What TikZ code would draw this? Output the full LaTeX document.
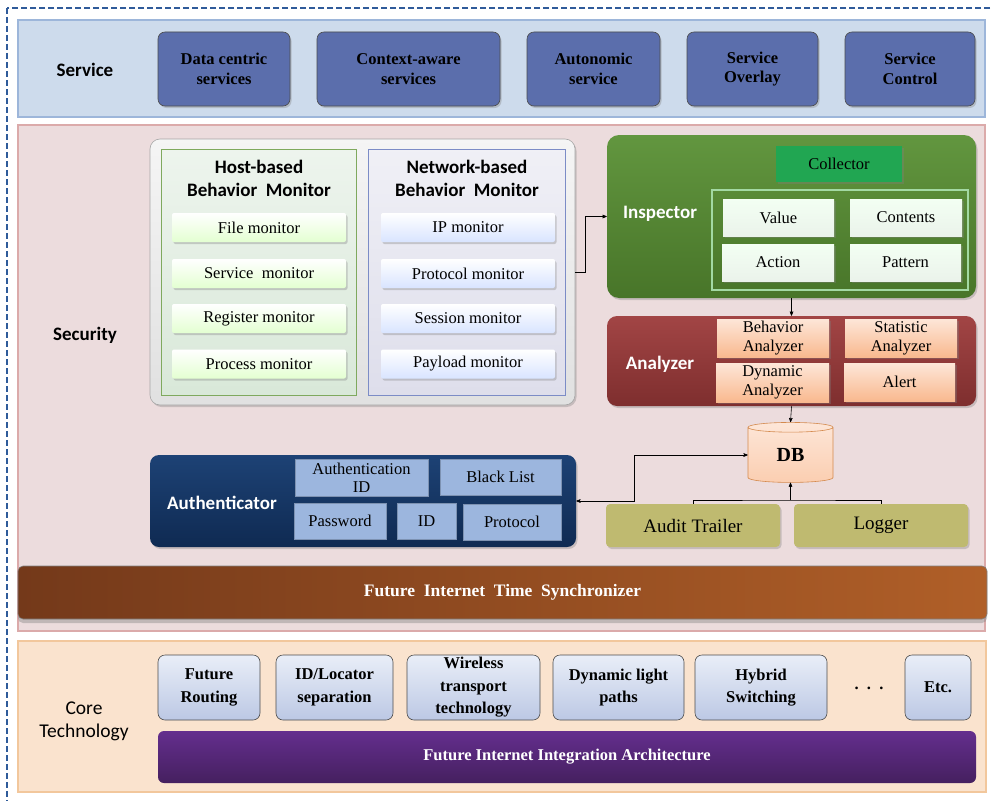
\documentclass[tikz,border=0pt]{standalone}
\usepackage{fontspec}
\setmainfont{Liberation Serif}
\newfontfamily\calib{Carlito}
\usepackage{tikz}
\usetikzlibrary{arrows,shapes.geometric,shadows}

\definecolor{frameblue}{HTML}{2F5B9A}
\definecolor{svcband}{HTML}{CDDBEC}
\definecolor{svcbandline}{HTML}{9DB6DA}
\definecolor{svcbox}{HTML}{5B6EAC}
\definecolor{secband}{HTML}{ECDCDD}
\definecolor{secbandline}{HTML}{DBAAAA}
\definecolor{hostline}{HTML}{7FA95E}
\definecolor{netline}{HTML}{7C8CC6}
\definecolor{inspgreen}{HTML}{62963F}
\definecolor{inspdark}{HTML}{487529}
\definecolor{collgreen}{HTML}{21A652}
\definecolor{anared}{HTML}{A24545}
\definecolor{anadark}{HTML}{7E2E2E}
\definecolor{peach}{HTML}{F9B98F}
\definecolor{peachlt}{HTML}{FDE6D8}
\definecolor{dbline}{HTML}{D48A4E}
\definecolor{olive}{HTML}{BFBA70}
\definecolor{authblue}{HTML}{1D4275}
\definecolor{authdark}{HTML}{0F2A52}
\definecolor{authbox}{HTML}{9CB6DE}
\definecolor{syncdark}{HTML}{74391A}
\definecolor{synclt}{HTML}{B05F28}
\definecolor{coreband}{HTML}{FAE3CE}
\definecolor{corebandline}{HTML}{F2C79C}
\definecolor{corelt}{HTML}{E9EEF8}
\definecolor{coredk}{HTML}{BCC8E4}
\definecolor{purplelt}{HTML}{642E8E}
\definecolor{purpledk}{HTML}{45205F}

\begin{document}
\begin{tikzpicture}[x=1pt,y=-1pt,>=stealth',semithick,
                    font=\fontsize{16.5}{18}\selectfont]
  \tikzstyle{shad}=[drop shadow={opacity=0.35,shadow xshift=1.5pt,shadow yshift=-2pt}]
  \tikzstyle{band}=[rectangle,line width=1.5pt,inner sep=0pt]
  \tikzstyle{layer}=[calib-font,text=black]
  \tikzstyle{calib-font}=[font=\calib\bfseries\fontsize{19}{23}\selectfont]
  \tikzstyle{whitelab}=[calib-font,text=white]
  \tikzstyle{svcbox}=[rectangle,rounded corners=7pt,draw=black!70,fill=svcbox,align=center,
                      inner sep=0pt,font=\bfseries\fontsize{16.5}{19.5}\selectfont,shad]
  \tikzstyle{monbox}=[rectangle,rounded corners=2pt,inner sep=0pt,minimum width=174pt,
                      minimum height=29pt,shad]
  \tikzstyle{greenbox}=[rectangle,top color=white!40!green!8,bottom color=green!40!black!8!white,
                        inner sep=0pt,minimum height=37pt,shad]
  \tikzstyle{peachbox}=[rectangle,top color=peachlt,bottom color=peach,inner sep=0pt,
                        align=center,font=\fontsize{16.5}{19}\selectfont,shad]
  \tikzstyle{authbox}=[rectangle,fill=authbox,draw=authbox!80!black,inner sep=0pt,align=center,
                       font=\fontsize{16.5}{18}\selectfont]
  \tikzstyle{corebox}=[rectangle,rounded corners=7pt,draw=black!70,top color=corelt,
                       bottom color=coredk,align=center,inner sep=0pt,minimum height=65pt,
                       font=\bfseries\fontsize{16.5}{22.5}\selectfont]

  \path[use as bounding box,fill=white] (0,0) rectangle (992,800);
  \draw[frameblue,line width=1.3pt,dash pattern=on 6pt off 3pt] (7,8) rectangle (1010,815);

  \node[band,draw=svcbandline,fill=svcband,minimum width=967pt,minimum height=97pt] (svc) at (501.5,68.5) {};
  \node[layer] (svclab) at (85,70) {Service};
  \node[svcbox,minimum width=132pt,minimum height=74pt] (dcs) at (224,69) {Data centric\\services};
  \node[svcbox,minimum width=183pt,minimum height=74pt] (cas) at (408.5,69) {Context-aware\\services};
  \node[svcbox,minimum width=133pt,minimum height=74pt] (aut) at (593.5,69) {Autonomic\\service};
  \node[svcbox,minimum width=131pt,minimum height=74pt] (sov) at (752.5,69) {Service\\Overlay};
  \node[svcbox,minimum width=130pt,minimum height=74pt] (sct) at (910,69) {Service\\Control};

  \node[band,draw=secbandline,fill=secband,minimum width=967pt,minimum height=506pt] (sec) at (501.5,378) {};
  \node[layer] (seclab) at (85,335) {Security};

  \node[rectangle,rounded corners=10pt,draw=black!35,top color=white!96!black,bottom color=black!12!white,
        minimum width=425pt,minimum height=266pt,shad] (mon) at (362.5,272) {};
  \node[rectangle,draw=hostline,top color=green!40!black!7!white,bottom color=green!40!black!15!white,
        minimum width=195pt,minimum height=246pt] (host) at (258.5,272) {};
  \node[rectangle,draw=netline,top color=blue!40!black!6!white,bottom color=blue!40!black!13!white,
        minimum width=197pt,minimum height=246pt] (net) at (466.5,272) {};
  \node[calib-font,align=center] (hostlab) at (259,178.5) {Host-based\\Behavior\ \ Monitor};
  \node[calib-font,align=center] (netlab) at (467,178.5) {Network-based\\Behavior\ \ Monitor};

  \node[monbox,top color=white,bottom color=yellow!40!green!18!white] (fmon) at (259,227.5) {File monitor};
  \node[monbox,top color=white,bottom color=yellow!40!green!18!white] (smon) at (259,273.5) {Service\ \ monitor};
  \node[monbox,top color=white,bottom color=yellow!40!green!18!white] (rmon) at (259,318.5) {Register monitor};
  \node[monbox,top color=white,bottom color=yellow!40!green!18!white] (pmon) at (259,364) {Process monitor};
  \node[monbox,top color=white,bottom color=cyan!30!blue!15!white] (ipmon) at (468,227.5) {IP monitor};
  \node[monbox,top color=white,bottom color=cyan!30!blue!15!white] (prmon) at (468,273.5) {Protocol monitor};
  \node[monbox,top color=white,bottom color=cyan!30!blue!15!white] (semon) at (468,318.5) {Session monitor};
  \node[monbox,top color=white,bottom color=cyan!30!blue!15!white] (paymon) at (468,364) {Payload monitor};

  \node[rectangle,rounded corners=12pt,top color=inspgreen,bottom color=inspdark,
        minimum width=369pt,minimum height=163pt,shad] (insp) at (791.5,216.5) {};
  \node[whitelab] (insplab) at (660,214) {Inspector};
  \node[rectangle,fill=collgreen,minimum width=126pt,minimum height=36pt,inner sep=0pt,shad] (coll) at (839,164) {Collector};
  \node[rectangle,draw=green!25!white!85!black,line width=2pt,minimum width=256pt,minimum height=100pt] (frame) at (840,240) {};
  \node[greenbox,minimum width=111pt] (val) at (778.5,217.5) {Value};
  \node[greenbox,minimum width=112pt] (cont) at (906,217.5) {Contents};
  \node[greenbox,minimum width=112pt] (act) at (778,262.5) {Action};
  \node[greenbox,minimum width=111pt] (patt) at (905.5,262.5) {Pattern};

  \node[rectangle,rounded corners=10pt,top color=anared,bottom color=anadark,
        minimum width=369pt,minimum height=90pt,shad] (ana) at (791.5,361) {};
  \node[whitelab] (analab) at (660,364) {Analyzer};
  \node[peachbox,minimum width=112pt,minimum height=38pt] (bana) at (773,338) {Behavior\\Analyzer};
  \node[peachbox,minimum width=112pt,minimum height=38pt] (sana) at (901,338) {Statistic\\Analyzer};
  \node[peachbox,minimum width=113pt,minimum height=39pt] (dana) at (772.5,382.5) {Dynamic\\Analyzer};
  \node[peachbox,minimum width=111pt,minimum height=38pt] (alert) at (899.5,382) {Alert};

  \node[cylinder,shape border rotate=90,aspect=0.35,draw=dbline,top color=peachlt,bottom color=peach!70!white,
        minimum width=85pt,minimum height=60pt,inner sep=0pt,font=\bfseries\fontsize{20}{22}\selectfont] (db) at (790.5,455) {DB};

  \node[rectangle,rounded corners=4pt,fill=olive,minimum width=174pt,minimum height=43pt,
        font=\fontsize{19}{21}\selectfont,shad] (audit) at (693,525.5) {Audit Trailer};
  \node[rectangle,rounded corners=4pt,fill=olive,minimum width=174pt,minimum height=43pt,
        font=\fontsize{19}{21}\selectfont,shad] (logger) at (881,525.5) {Logger};

  \node[rectangle,rounded corners=9pt,top color=authblue,bottom color=authdark,
        minimum width=426pt,minimum height=92pt,shad] (auth) at (363,501) {};
  \node[whitelab] (authlab) at (222,503) {Authenticator};
  \node[authbox,minimum width=133pt,minimum height=37pt] (aid) at (361.5,477.5) {Authentication\\ID};
  \node[authbox,minimum width=121pt,minimum height=36pt] (blist) at (500.5,477) {Black List};
  \node[authbox,minimum width=92pt,minimum height=36pt] (pwd) at (340,521) {Password};
  \node[authbox,minimum width=59pt,minimum height=36pt] (idb) at (426.5,521) {ID};
  \node[authbox,minimum width=98pt,minimum height=36pt] (proto) at (512,522) {Protocol};

  \node[rectangle,rounded corners=5pt,left color=syncdark,right color=synclt,draw=black!50,
        minimum width=969pt,minimum height=53pt,text=white,font=\bfseries\fontsize{17.5}{19}\selectfont,
        drop shadow={opacity=0.4,shadow xshift=0pt,shadow yshift=-4pt}] (sync) at (502.5,592.5)
        {Future\ \ Internet\ \ Time\ \ Synchronizer};

  \node[band,draw=corebandline,fill=coreband,minimum width=968pt,minimum height=151pt] (core) at (502,716.5) {};
  \node[layer,font=\calib\fontsize{19.5}{23}\selectfont,align=center] (corelab) at (84,721) {Core\\Technology};
  \node[corebox,minimum width=102pt] (frt) at (209,687.5) {Future\\Routing};
  \node[corebox,minimum width=117pt] (idl) at (334.5,687.5) {ID/Locator\\separation};
  \node[corebox,minimum width=133pt] (wtt) at (473.5,687.5) {Wireless\\transport\\technology};
  \node[corebox,minimum width=131pt] (dlp) at (618.5,687.5) {Dynamic light\\paths};
  \node[corebox,minimum width=132pt] (hsw) at (761,687.5) {Hybrid\\Switching};
  \node[font=\bfseries\fontsize{16.5}{20}\selectfont] (dots) at (869,688) {.\ \ .\ \ .};
  \node[corebox,minimum width=66pt] (etc) at (938,687.5) {Etc.};
  \node[rectangle,rounded corners=6pt,top color=purplelt,bottom color=purpledk,minimum width=818pt,
        minimum height=52pt,text=white,font=\bfseries\fontsize{16.5}{18}\selectfont] (fiia) at (567,757)
        {Future Internet Integration Architecture};

  \draw[->] (mon.east) -- ++(10,0) |- (insp.west);
  \draw[->] (insp.south) -- (ana.north);
  \draw[->] (ana.south) -- (db.top);
  \draw[<->] (auth.east) -- ++(58,0) |- (db.west);
  \coordinate (dbin) at (db.bottom |- 0,500);
  \draw (audit.north) |- (dbin) -| (logger.north);
  \draw[->] (dbin) -- (db.bottom);
\end{tikzpicture}
\end{document}
